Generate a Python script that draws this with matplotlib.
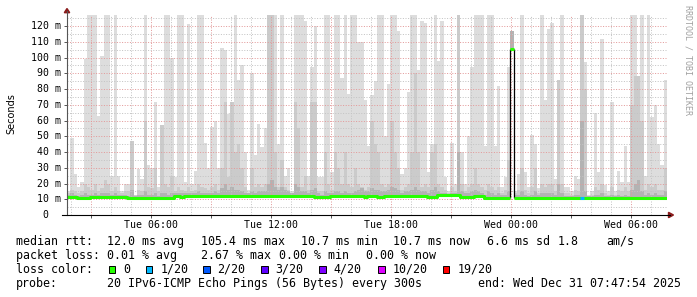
import matplotlib
matplotlib.use('Agg')
import matplotlib.pyplot as plt
import numpy as np
import matplotlib.transforms as mtransforms
from matplotlib.lines import Line2D
from matplotlib.patches import Rectangle, Polygon

# ---------------- data (10-minute bins, 30 hours ending Wed 07:47:54) ----------------
START_H = 1.798          # hours since Tue 00:00
BIN_H = 1.0 / 6.0

smoke_max = [
    15, 49, 26, 18, 21, 99, 127, 127, 127, 63, 101, 127, 127, 25, 127, 25, 15, 20, 20, 47, 13, 29, 23, 127, 32, 30, 72, 18, 57, 127, 127, 100, 24, 127, 127, 21,
    121, 20, 28, 127, 127, 46, 30, 56, 60, 30, 106, 105, 64, 72, 127, 86, 95, 40, 16, 90, 38, 58, 43, 55, 127, 127, 127, 45, 127, 25, 30, 15, 127, 127, 127, 123,
    25, 94, 120, 24, 24, 127, 127, 27, 127, 127, 87, 127, 77, 127, 127, 110, 110, 73, 44, 76, 85, 127, 127, 50, 83, 127, 127, 117, 26, 30, 78, 127, 127, 92, 123, 122,
    27, 45, 127, 98, 123, 24, 15, 46, 20, 127, 40, 20, 50, 94, 127, 127, 127, 44, 127, 127, 44, 82, 18, 24, 94, 117, 15, 26, 127, 27, 18, 51, 45, 17, 127, 73,
    118, 122, 23, 86, 127, 18, 18, 15, 25, 23, 127, 97, 13, 15, 65, 27, 112, 19, 15, 72, 15, 28, 21, 44, 21, 127, 127, 88, 127, 25, 127, 62, 70, 45, 32, 86,
]
smoke_mid = [
    14, 16, 15, 14, 15, 20, 18, 16, 20, 15, 17, 22, 20, 15, 18, 15, 14, 15, 15, 47, 13, 16, 15, 60, 18, 17, 30, 15, 57, 20, 18, 25, 15, 18, 16, 15,
    18, 15, 16, 20, 18, 17, 16, 18, 20, 16, 30, 72, 24, 72, 40, 45, 30, 18, 14, 30, 18, 20, 18, 20, 127, 127, 40, 18, 35, 18, 16, 14, 72, 55, 18, 25,
    16, 72, 72, 15, 15, 40, 20, 16, 40, 30, 20, 40, 20, 18, 30, 20, 18, 16, 18, 60, 45, 40, 20, 18, 20, 60, 40, 30, 16, 18, 20, 40, 90, 40, 18, 20,
    18, 40, 45, 20, 18, 16, 14, 18, 15, 127, 20, 15, 18, 20, 30, 20, 18, 16, 20, 18, 16, 18, 14, 16, 35, 117, 14, 16, 30, 16, 14, 18, 30, 14, 20, 18,
    20, 20, 15, 86, 20, 14, 14, 13, 16, 15, 127, 80, 12, 13, 18, 16, 20, 14, 13, 18, 13, 16, 15, 18, 15, 70, 88, 88, 60, 16, 20, 18, 20, 16, 16, 30,
]
smoke_dark = [
    13, 14, 13, 12, 13, 14, 13, 13, 14, 13, 14, 14, 14, 13, 14, 13, 13, 13, 12, 16, 12, 13, 13, 15, 13, 13, 14, 12, 14, 14, 13, 14, 14, 14, 14, 14,
    14, 14, 14, 15, 14, 14, 14, 14, 15, 14, 17, 20, 16, 18, 16, 16, 15, 14, 14, 15, 14, 15, 15, 15, 20, 22, 18, 16, 18, 16, 15, 14, 20, 18, 15, 15,
    14, 16, 17, 14, 13, 15, 14, 14, 15, 15, 14, 15, 14, 14, 15, 16, 17, 15, 15, 17, 16, 16, 15, 15, 16, 18, 17, 16, 14, 15, 15, 16, 18, 16, 15, 15,
    14, 16, 18, 15, 14, 14, 13, 14, 14, 40, 15, 14, 14, 15, 16, 15, 14, 13, 15, 14, 13, 14, 13, 13, 15, 117, 13, 13, 15, 13, 12, 13, 15, 13, 14, 14,
    14, 14, 13, 20, 14, 12, 12, 12, 13, 13, 60, 15, 12, 12, 13, 13, 14, 12, 12, 13, 12, 13, 12, 13, 12, 16, 20, 22, 15, 13, 14, 13, 14, 13, 13, 15,
]
median = [
    11.5, 11.5, 11.5, 11.0, 11.0, 11.0, 11.0, 11.5, 11.5, 11.5, 11.5, 11.5, 11.5, 11.5, 11.5, 11.5, 11.5, 11.5, 10.9, 10.9, 10.9, 10.9, 10.9, 10.9, 10.9, 10.9, 10.9, 10.9, 10.9, 10.9, 10.9, 10.9, 12.1, 12.1, 11.5, 12.1,
    11.8, 12.1, 12.1, 12.1, 12.1, 12.1, 12.1, 12.1, 12.1, 12.1, 12.1, 12.1, 12.1, 12.1, 12.1, 12.1, 12.1, 12.1, 12.1, 12.1, 12.1, 12.1, 12.1, 12.1, 12.1, 12.1, 12.1, 12.1, 12.1, 12.1, 12.1, 12.1, 12.1, 12.1, 12.1, 12.1,
    12.1, 12.1, 11.2, 11.2, 11.2, 11.2, 11.2, 12.1, 12.1, 12.1, 12.1, 12.1, 12.1, 12.1, 12.1, 12.1, 12.1, 11.7, 12.1, 12.1, 12.1, 11.7, 11.7, 12.1, 12.1, 12.1, 12.1, 12.1, 12.1, 12.1, 12.1, 12.1, 12.1, 12.1, 12.1, 12.1,
    11.7, 11.7, 11.7, 12.5, 12.5, 12.5, 12.5, 12.5, 12.5, 12.5, 11.7, 11.7, 11.3, 11.3, 12.1, 12.1, 12.1, 11.1, 11.1, 11.1, 11.1, 11.1, 11.1, 11.1, 11.1, 105.4, 11.1, 11.1, 11.1, 10.8, 10.9, 10.9, 10.9, 10.9, 10.9, 10.9,
    10.9, 10.9, 10.9, 10.9, 10.9, 11.1, 11.1, 11.1, 11.1, 11.1, 10.9, 10.9, 10.9, 10.9, 10.9, 10.9, 10.9, 10.9, 10.9, 10.9, 10.9, 10.9, 11.1, 11.1, 11.1, 10.9, 10.9, 10.9, 10.9, 10.9, 10.9, 10.9, 10.9, 10.9, 10.9, 10.9,
]
loss_bins = [154]
loss_levels = [1]

LOSS_LABELS = ['0', '1/20', '2/20', '3/20', '4/20', '10/20', '19/20']
LOSS_COLORS = ['#26ff00', '#00b8ff', '#0059ff', '#5e00ff', '#7e00ff', '#dd00ff', '#ff0000']

Y_TICKS = list(range(0, 121, 10))
Y_TICK_LABELS = ['  0  '] + ['%3d m' % v for v in range(10, 121, 10)]
X_LABEL_HOURS = [6, 12, 18, 24, 30]
X_LABELS = ['Tue 06:00', 'Tue 12:00', 'Tue 18:00', 'Wed 00:00', 'Wed 06:00']

median_line = ['median rtt:', '12.0 ms avg', '105.4 ms max', '10.7 ms min', '10.7 ms now', '6.6 ms sd', '1.8', 'am/s']
loss_line = ['packet loss:', '0.01 % avg', '2.67 % max', '0.00 % min', '0.00 % now']
probe_line = ['probe:', '20 IPv6-ICMP Echo Pings (56 Bytes) every 300s', 'end: Wed Dec 31 07:47:54 2025']

# ---------------- layout helpers ----------------
W, H = 697, 297
fig = plt.figure(figsize=(W / 100, H / 100), dpi=100)
fig.patch.set_facecolor('white')


def fx(px):
    return px / W


def fy(py):
    return 1 - py / H


MONO = 'DejaVu Sans Mono'
Y_MAX = 127
PX_PER_MS = 1.575
ax_top_px = 215 - Y_MAX * PX_PER_MS
ax = fig.add_axes([fx(67), fy(215), 600 / W, (215 - ax_top_px) / H])
ax.set_facecolor('white')

N = len(smoke_max)
edges = START_H + np.arange(N + 1) * BIN_H
left = edges[:-1]
med = np.array(median)
smax = np.array(smoke_max, float)
smid = np.array(smoke_mid, float)
sdark = np.array(smoke_dark, float)

ax.bar(left, smax - med, bottom=med, width=BIN_H, align='edge', color='#dddddd', linewidth=0, zorder=1)
ax.bar(left, np.maximum(smid - med, 0), bottom=med, width=BIN_H, align='edge', color='#cbcbcb', linewidth=0, zorder=1.1)
ax.bar(left, np.maximum(sdark - med, 0), bottom=med, width=BIN_H, align='edge', color='#b3b3b3', linewidth=0, zorder=1.2)

# median line (step), big jumps drawn as thin black connectors
big = np.abs(np.diff(med)) > 5
px_, py_ = [], []
for i in range(N):
    px_ += [edges[i], edges[i + 1]]
    py_ += [med[i], med[i]]
    if i < N - 1 and big[i]:
        px_.append(np.nan)
        py_.append(np.nan)
ax.plot(px_, py_, color=LOSS_COLORS[0], lw=2.2, zorder=3, solid_capstyle='butt')
for i in np.where(big)[0]:
    ax.vlines(edges[i + 1], min(med[i], med[i + 1]), max(med[i], med[i + 1]), color='black', lw=0.9, zorder=2.9)
for b, lv in zip(loss_bins, loss_levels):
    ax.plot([edges[b], edges[b + 1]], [med[b], med[b]], color=LOSS_COLORS[lv], lw=2.2, zorder=3.1, solid_capstyle='butt')

ax.set_xlim(edges[0], edges[-1])
ax.set_ylim(0, Y_MAX)

# grid
major_x = np.arange(3, 31, 3)
minor_x = [h for h in range(2, 32) if h % 3 != 0]
ax.set_xticks(major_x)
ax.set_xticklabels([X_LABELS[X_LABEL_HOURS.index(h)] if h in X_LABEL_HOURS else '' for h in major_x],
                   family=MONO, fontsize=7.1)
ax.set_xticks(minor_x, minor=True)
ax.set_yticks(Y_TICKS)
ax.set_yticks(np.arange(5, 126, 10), minor=True)
ax.tick_params(axis='y', which='major', length=2.2, width=0.7, color='#555555', labelleft=False)
ax.tick_params(axis='y', which='minor', length=0)
ax.tick_params(axis='x', which='major', length=2.2, width=0.7, color='#555555', pad=1.5, labelcolor='black')
ax.tick_params(axis='x', which='minor', length=0)
ax.set_axisbelow(False)
ax.grid(which='major', color='#e39a9a', lw=0.72, linestyle=(0, (1, 1.6)), zorder=2.5)
ax.grid(which='minor', color='#c4c4c4', lw=0.72, linestyle=(0, (1, 1.6)), zorder=2.4)
for s in ax.spines.values():
    s.set_visible(False)

# y tick labels
ytrans = mtransforms.blended_transform_factory(fig.transFigure, ax.transData)
for v, lab in zip(Y_TICKS, Y_TICK_LABELS):
    ax.text(fx(30.7), v, lab, transform=ytrans, ha='left', va='center', family=MONO, fontsize=7.1, clip_on=False)

# axis lines and arrows
fig.add_artist(Line2D([fx(67), fx(67)], [fy(215), fy(11)], color='#555555', lw=0.8))
fig.add_artist(Line2D([fx(62), fx(670)], [fy(215), fy(215)], color='black', lw=0.8))
fig.add_artist(Polygon([[fx(64.3), fy(12.7)], [fx(69.7), fy(12.7)], [fx(67), fy(8.5)]], closed=True,
                       color='#8b1c1c', transform=fig.transFigure))
fig.add_artist(Polygon([[fx(668.5), fy(212.3)], [fx(668.5), fy(217.7)], [fx(673.5), fy(215)]], closed=True,
                       color='#8b1c1c', transform=fig.transFigure))

# labels
fig.text(fx(11), fy(114), 'Seconds', rotation=90, ha='center', va='center', fontsize=7, family='DejaVu Sans')
fig.text(fx(688), fy(5), 'RRDTOOL / TOBI OETIKER', rotation=270, ha='center', va='top', fontsize=6,
         family=MONO, color='#a0a0a0')

# legend lines
LEG = 8.4
for s, x in zip(median_line, [16, 107, 200.7, 300.7, 393.3, 486.7, 558, 606.7]):
    fig.text(fx(x), fy(245), s, family=MONO, fontsize=LEG, va='baseline', ha='left')
for s, x in zip(loss_line, [16, 107, 200.7, 279.3, 366]):
    fig.text(fx(x), fy(259), s, family=MONO, fontsize=LEG, va='baseline', ha='left')
fig.text(fx(16), fy(273), 'loss color:', family=MONO, fontsize=LEG, va='baseline', ha='left')
for lab, col, sx in zip(LOSS_LABELS, LOSS_COLORS, [108.7, 145.7, 203, 261, 319, 378.3, 442.7]):
    fig.add_artist(Rectangle((fx(sx), fy(273.3)), 6.7 / W, 7.6 / H, transform=fig.transFigure,
                             facecolor=col, edgecolor='black', lw=0.7))
    fig.text(fx(sx + 14.5), fy(273), lab, family=MONO, fontsize=LEG, va='baseline', ha='left')
for s, x in zip(probe_line, [16, 107, 478]):
    fig.text(fx(x), fy(287), s, family=MONO, fontsize=LEG, va='baseline', ha='left')

fig.savefig('out.png', dpi=100, facecolor='white')
